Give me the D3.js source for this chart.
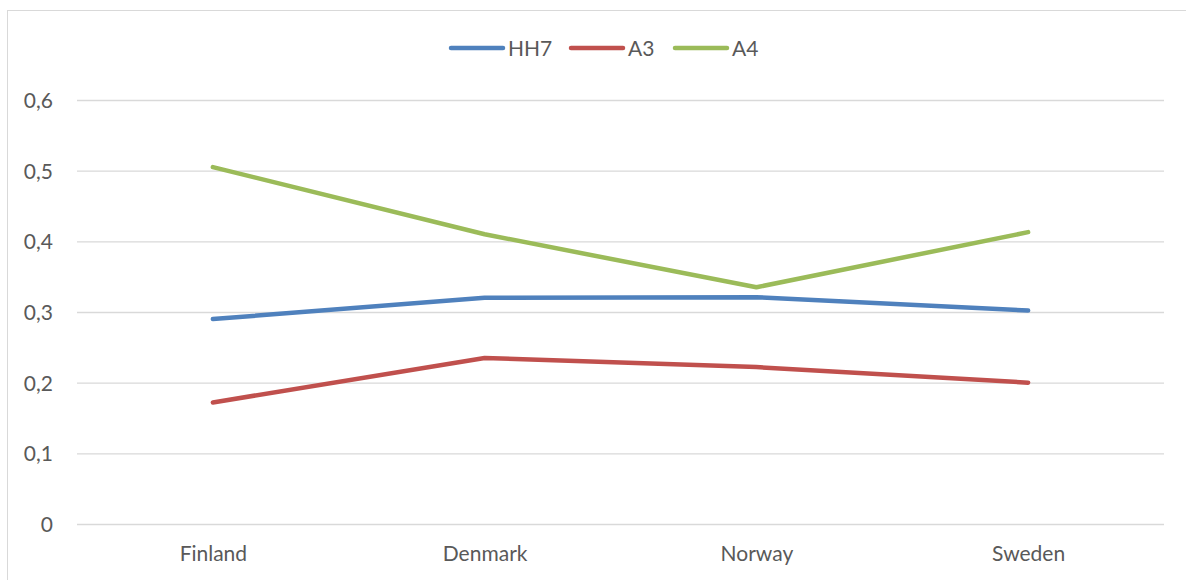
<!DOCTYPE html>
<html>
<head>
<meta charset="utf-8">
<script src="https://cdn.jsdelivr.net/npm/d3@7"></script>
<style>
  body { margin: 0; background: #fff; }
  text { font-family: Lato, "Open Sans", sans-serif; fill: #595959; }
</style>
</head>
<body>
<div id="chart"></div>
<script>
// categories and series
var countries = ["Finland", "Denmark", "Norway", "Sweden"];
var hh7 = [0.290, 0.320, 0.321, 0.302];
var a3 = [0.172, 0.235, 0.222, 0.200];
var a4 = [0.505, 0.410, 0.335, 0.413];
var yTicks = [0, 0.1, 0.2, 0.3, 0.4, 0.5, 0.6];
var seriesNames = ["HH7", "A3", "A4"];
var colors = ["#4f81bd", "#c0504d", "#9bbb59"];

var width = 1186, height = 580;
var margin = {top: 100, right: 22, bottom: 56, left: 77};
var fontSize = 21;

var svg = d3.select('#chart').append('svg')
    .attr('width', width).attr('height', height);

// cadre du graphique
svg.append('rect')
    .attr('x', 7.5).attr('y', 10.5)
    .attr('width', 1190).attr('height', 600)
    .attr('fill', 'none').attr('stroke', '#d9d9d9');

var x = d3.scalePoint()
    .domain(countries)
    .range([margin.left, width - margin.right])
    .padding(0.5);

var y = d3.scaleLinear()
    .domain([0, 0.6])
    .range([height - margin.bottom, margin.top]);

var fmt = function(d){ return d === 0 ? "0" : d3.format(".1f")(d).replace(".", ","); };

// grille + axe y
var yAxis = svg.append('g')
    .attr('transform', 'translate(' + margin.left + ',0)')
    .call(d3.axisLeft(y).tickValues(yTicks)
        .tickSize(-(width - margin.left - margin.right))
        .tickFormat(fmt));
yAxis.select('.domain').remove();
yAxis.attr('font-size', null).attr('font-family', null);
yAxis.selectAll('.tick line').attr('stroke', '#d9d9d9').attr('stroke-width', 1.3);
yAxis.selectAll('.tick text')
    .attr('x', -24).attr('dy', '0.36em')
    .style('font-size', fontSize + 'px').attr('fill', '#595959');

// axe x
var xAxis = svg.append('g')
    .attr('transform', 'translate(0,' + (height - margin.bottom) + ')')
    .call(d3.axisBottom(x).tickSize(0).tickPadding(22));
xAxis.select('.domain').remove();
xAxis.attr('font-size', null).attr('font-family', null);
xAxis.selectAll('.tick text')
    .style('font-size', fontSize + 'px').attr('fill', '#595959');

// les courbes
var allSeries = [hh7, a3, a4];
var line = d3.line()
    .x(function(d, i){ return x(countries[i]); })
    .y(function(d){ return y(d); });

for (var i = 0; i < allSeries.length; i++) {
    svg.append('path')
        .datum(allSeries[i])
        .attr('d', line)
        .attr('fill', 'none')
        .attr('stroke', colors[i])
        .attr('stroke-width', 4.5)
        .attr('stroke-linecap', 'round')
        .attr('stroke-linejoin', 'round');
}

// légende
var legendX = [451, 571, 675];
var legend = svg.append('g');
for (var j = 0; j < seriesNames.length; j++) {
    legend.append('line')
        .attr('x1', legendX[j]).attr('x2', legendX[j] + 52)
        .attr('y1', 48).attr('y2', 48)
        .attr('stroke', colors[j]).attr('stroke-width', 4.5)
        .attr('stroke-linecap', 'round');
    legend.append('text')
        .attr('x', legendX[j] + 57).attr('y', 55.5)
        .style('font-size', fontSize + 'px')
        .text(seriesNames[j]);
}
</script>
</body>
</html>
